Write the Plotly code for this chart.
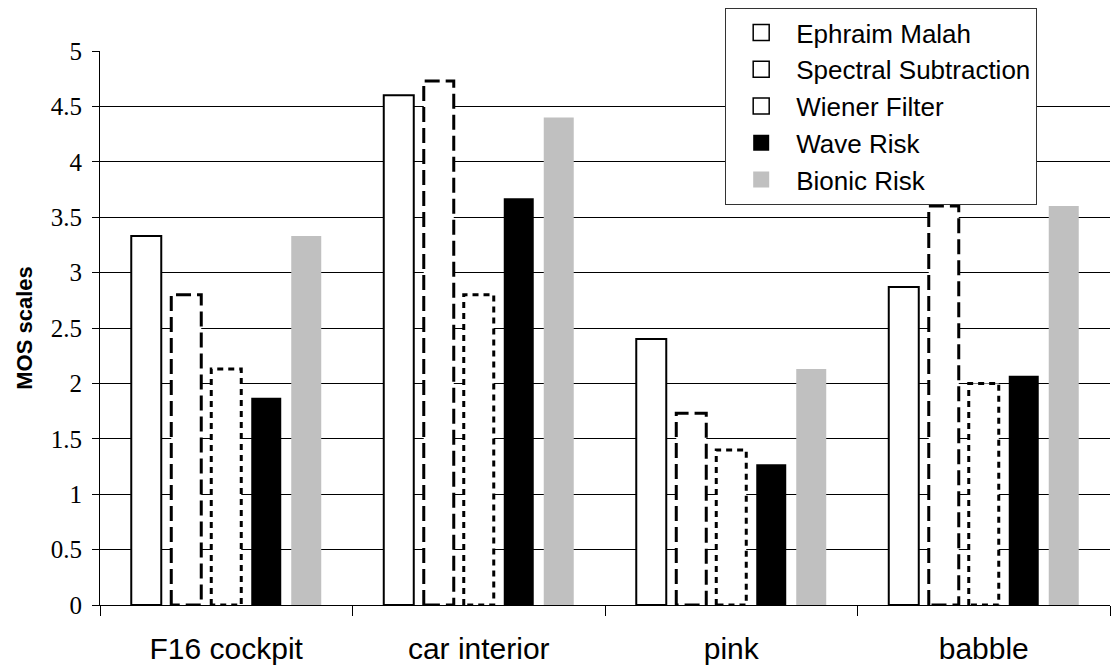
import plotly.graph_objects as go

categories = ["F16 cockpit", "car interior", "pink", "babble"]
series_names = ["Ephraim Malah", "Spectral Subtraction", "Wiener Filter", "Wave Risk", "Bionic Risk"]
ephraim = [3.33, 4.6, 2.4, 2.87]
spectral = [2.8, 4.73, 1.73, 3.6]
wiener = [2.13, 2.8, 1.4, 2.0]
wave = [1.87, 3.67, 1.27, 2.07]
bionic = [3.33, 4.4, 2.13, 3.6]
y_ticks = [0, 0.5, 1, 1.5, 2, 2.5, 3, 3.5, 4, 4.5, 5]

series = [ephraim, spectral, wiener, wave, bionic]
idx = list(range(len(categories)))

slot = 0.1584
bw = 0.1188

styles = [
    dict(fill="white", line="solid", lw=2),
    dict(fill="white", line="15px,6px", lw=3),
    dict(fill="white", line="6px,5px", lw=3),
    dict(fill="black", line=None, lw=0),
    dict(fill="#C0C0C0", line=None, lw=0),
]

fig = go.Figure()
for k, (name, vals, st) in enumerate(zip(series_names, series, styles)):
    off = (k - 2) * slot - bw / 2
    dashed = st["line"] not in (None, "solid")
    fig.add_trace(go.Bar(
        x=idx, y=vals, width=bw, offset=off, name=name,
        marker=dict(color=st["fill"],
                    line=dict(color="black", width=st["lw"] if st["line"] == "solid" else 0)),
        showlegend=False, cliponaxis=False,
    ))
    if dashed:
        xs, ys = [], []
        for i, v in zip(idx, vals):
            x0 = i + off
            x1 = x0 + bw
            xs += [x0, x0, x1, x1, x0, None]
            ys += [0, v, v, 0, 0, None]
        fig.add_trace(go.Scatter(
            x=xs, y=ys, mode="lines", showlegend=False, cliponaxis=False,
            line=dict(color="black", width=st["lw"], dash=st["line"]),
            hoverinfo="skip",
        ))
    # legend entry
    outlined = st["fill"] == "white"
    fig.add_trace(go.Scatter(
        x=[None], y=[None], mode="markers", name=name, legendrank=k + 1,
        marker=dict(symbol="square", size=16, color=st["fill"],
                    line=dict(color="black" if outlined else st["fill"], width=1.5 if outlined else 0)),
    ))

fig.update_layout(
    width=1114, height=667,
    margin=dict(l=100, r=4, t=51, b=62),
    paper_bgcolor="white", plot_bgcolor="white",
    barmode="overlay",
    showlegend=True,
    legend=dict(
        x=0.619, y=1.0776, xanchor="left", yanchor="top",
        bgcolor="white", bordercolor="#333333", borderwidth=1,
        font=dict(family="Liberation Sans, Arial", size=26, color="black"),
        itemwidth=60,
    ),
    font=dict(family="Liberation Sans, Arial", color="black"),
)

fig.update_xaxes(
    range=[-0.5, 3.5], automargin=False,
    tickmode="array", tickvals=idx, ticktext=categories,
    ticks="outside", ticklen=17, tickcolor="rgba(0,0,0,0)",
    tickfont=dict(family="Liberation Sans, Arial", size=30, color="black"),
    showline=True, linecolor="black", linewidth=1,
    showgrid=False, zeroline=False,
    minor=dict(tickmode="array", tickvals=[-0.5, 0.5, 1.5, 2.5, 3.5],
               ticks="outside", ticklen=10, tickcolor="black", tickwidth=1, showgrid=False),
)

fig.update_yaxes(
    range=[0, 5], automargin=False,
    tickmode="array", tickvals=y_ticks, ticktext=[f"{t:g}" for t in y_ticks],
    ticks="outside", ticklen=7, tickcolor="black", ticklabelstandoff=5,
    tickfont=dict(family="Liberation Serif, Times New Roman", size=25, color="black"),
    showline=True, linecolor="black", linewidth=1,
    showgrid=True, gridcolor="black", gridwidth=1,
    zeroline=False,
    title=dict(text="<b>MOS scales</b>", font=dict(family="Liberation Sans, Arial", size=22, color="black"),
               standoff=12),
)

fig.write_html("out.html")
